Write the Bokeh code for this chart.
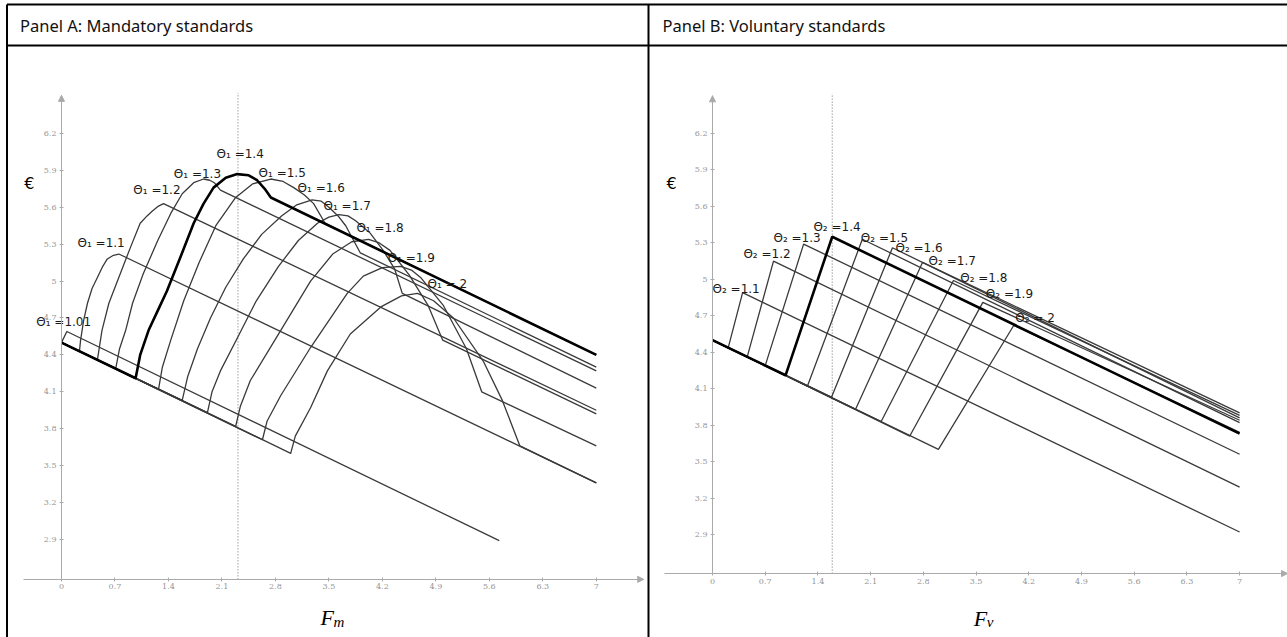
import math
from bokeh.plotting import figure
from bokeh.models import Range1d, LinearAxis, FixedTicker, PrintfTickFormatter, Arrow, NormalHead
from bokeh.embed import file_html
from bokeh.resources import INLINE
from bokeh.core.properties import value

PAGE_W, PAGE_H = 1287, 637

# ---------------- shared tick values ----------------
x_ticks = [0, 0.7, 1.4, 2.1, 2.8, 3.5, 4.2, 4.9, 5.6, 6.3, 7]
y_ticks = [2.9, 3.2, 3.5, 3.8, 4.1, 4.4, 4.7, 5, 5.3, 5.6, 5.9, 6.2]

# ---------------- Panel A: mandatory standards ----------------
A_title = "Panel A: Mandatory standards"
A_theta = ["1.01", "1.1", "1.2", "1.3", "1.4", "1.5", "1.6", "1.7", "1.8", "1.9", "2"]
A_x = [
    [0, 0.07, 5.73],
    [0, 0.235, 0.25, 0.29, 0.34, 0.40, 0.47, 0.54, 0.60, 0.68, 0.75, 7.0],
    [0, 0.47, 0.50, 0.53, 0.62, 0.75, 0.90, 1.03, 1.12, 1.19, 1.27, 1.335, 7.0],
    [0, 0.71, 0.76, 0.84, 0.93, 1.07, 1.26, 1.43, 1.58, 1.73, 1.86, 1.94, 2.0, 2.08, 7.0],
    [0, 0.97, 1.03, 1.14, 1.26, 1.38, 1.56, 1.73, 1.86, 1.99, 2.15, 2.30, 2.45, 2.56, 2.66, 2.74, 7.0],
    [0, 1.27, 1.32, 1.43, 1.60, 1.80, 2.02, 2.28, 2.50, 2.74, 2.90, 3.04, 3.18, 3.30, 3.45, 7.0],
    [0, 1.58, 1.65, 1.78, 1.95, 2.15, 2.38, 2.62, 2.88, 3.08, 3.28, 3.40, 3.50, 3.62, 3.72, 3.91, 7.0],
    [0, 1.91, 1.97, 2.08, 2.32, 2.55, 2.84, 3.10, 3.35, 3.50, 3.63, 3.75, 3.85, 4.04, 4.21, 4.36, 4.46, 7.0],
    [0, 2.28, 2.34, 2.47, 2.87, 3.26, 3.55, 3.80, 4.02, 4.16, 4.30, 4.55, 4.80, 4.99, 7.0],
    [0, 2.63, 2.69, 2.87, 3.26, 3.74, 3.95, 4.20, 4.44, 4.58, 4.70, 5.00, 5.30, 5.50, 7.0],
    [0, 3.0, 3.06, 3.26, 3.48, 3.78, 4.18, 4.45, 4.66, 4.87, 5.13, 5.52, 5.77, 6.0, 7.0],
]
A_y = [
    [4.5, 4.59, 2.89],
    [4.5, 4.43, 4.52, 4.68, 4.82, 4.94, 5.03, 5.12, 5.18, 5.21, 5.22, 3.36],
    [4.5, 4.36, 4.48, 4.60, 4.82, 5.03, 5.27, 5.47, 5.53, 5.57, 5.61, 5.63, 3.95],
    [4.5, 4.29, 4.45, 4.60, 4.82, 5.06, 5.33, 5.55, 5.71, 5.80, 5.83, 5.82, 5.80, 5.74, 4.27],
    [4.5, 4.21, 4.40, 4.60, 4.76, 4.92, 5.20, 5.47, 5.63, 5.76, 5.84, 5.87, 5.86, 5.82, 5.75, 5.68, 4.40],
    [4.5, 4.12, 4.30, 4.52, 4.84, 5.15, 5.45, 5.68, 5.79, 5.83, 5.81, 5.76, 5.70, 5.63, 5.47, 4.40],
    [4.5, 4.03, 4.22, 4.45, 4.70, 4.95, 5.18, 5.38, 5.53, 5.62, 5.66, 5.65, 5.60, 5.53, 5.45, 5.23, 4.30],
    [4.5, 3.93, 4.10, 4.27, 4.56, 4.84, 5.12, 5.33, 5.47, 5.52, 5.54, 5.53, 5.49, 5.39, 5.25, 5.10, 4.90, 4.13],
    [4.5, 3.82, 3.98, 4.19, 4.60, 5.00, 5.22, 5.32, 5.34, 5.31, 5.25, 5.05, 4.80, 4.52, 3.92],
    [4.5, 3.71, 3.86, 4.07, 4.46, 4.90, 5.04, 5.11, 5.12, 5.09, 5.03, 4.80, 4.45, 4.10, 3.66],
    [4.5, 3.60, 3.74, 3.97, 4.27, 4.57, 4.79, 4.88, 4.90, 4.84, 4.70, 4.35, 4.03, 3.66, 3.36],
]
A_label_x = [-0.33, 0.21, 0.94, 1.47, 2.03, 2.58, 3.09, 3.43, 3.86, 4.27, 4.79]
A_label_y = [4.67, 5.31, 5.74, 5.87, 6.03, 5.88, 5.76, 5.61, 5.43, 5.19, 4.98]
A_bold = "1.4"
A_threshold = 2.31
A_axis_cross = 2.575
A_x_bounds = (-0.5, 7.62)
A_y_top = 6.51
A_x_name = "F"
A_x_sub = "m"

# ---------------- Panel B: voluntary standards ----------------
B_title = "Panel B: Voluntary standards"
B_theta = ["1.1", "1.2", "1.3", "1.4", "1.5", "1.6", "1.7", "1.8", "1.9", "2"]
B_start_x, B_start_y = 0.0, 4.5
B_low_x = [0.21, 0.46, 0.70, 0.97, 1.26, 1.58, 1.90, 2.24, 2.62, 3.00]
B_low_y = [4.44, 4.36, 4.29, 4.21, 4.12, 4.03, 3.93, 3.83, 3.71, 3.60]
B_peak_x = [0.40, 0.81, 1.21, 1.59, 1.99, 2.39, 2.79, 3.20, 3.59, 4.00]
B_peak_y = [4.89, 5.15, 5.29, 5.35, 5.33, 5.26, 5.14, 4.99, 4.81, 4.62]
B_end_x = 7.0
B_end_y = [2.92, 3.29, 3.56, 3.73, 3.82, 3.86, 3.90, 3.88, 3.84, 3.74]
B_label_x = [0.00, 0.41, 0.81, 1.34, 1.97, 2.43, 2.87, 3.29, 3.63, 4.02]
B_label_y = [4.92, 5.21, 5.34, 5.43, 5.34, 5.26, 5.15, 5.01, 4.88, 4.68]
B_bold = "1.4"
B_threshold = 1.59
B_axis_cross = 2.578
B_x_bounds = (-0.64, 7.636)
B_y_top = 6.51
B_x_name = "F"
B_x_sub = "v"

# ---------------- figure (one canvas = the whole table) ----------------
p = figure(width=PAGE_W, height=PAGE_H,
           x_range=Range1d(0, PAGE_W), y_range=Range1d(PAGE_H, 0),
           x_axis_type=None, y_axis_type=None,
           toolbar_location=None, output_backend="svg",
           min_border=0, outline_line_color=None,
           background_fill_color="white", border_fill_color="white")
p.extra_x_ranges = {"xa": Range1d(-0.7984, 16.047), "xb": Range1d(-9.4555, 7.636)}
p.extra_y_ranges = {"ya": Range1d(2.1024, 7.2813), "yb": Range1d(2.0519, 7.2947)}

# table borders (page pixels)
TOP, HEAD, LEFT, MID = 4, 45, 6.5, 648
p.segment(x0=[LEFT, LEFT, LEFT, MID], y0=[TOP, TOP, HEAD, TOP],
          x1=[PAGE_W, LEFT, PAGE_W, MID], y1=[TOP, PAGE_H, HEAD, PAGE_H],
          line_color="black", line_width=2)
p.text(x=[LEFT + 13, MID + 14], y=[25, 25], text=[A_title, B_title],
       text_font=value("Noto Sans"), text_font_size="16.5px", text_color="#111111",
       text_baseline="middle", text_align="left")

AX_COL = "#aaaaaa"
LINE_COL = "#3a3a3a"


def axes(xr, yr, cross, xb, ytop):
    xax = LinearAxis(x_range_name=xr, y_range_name=yr, fixed_location=cross, bounds=xb,
                     ticker=FixedTicker(ticks=x_ticks), formatter=PrintfTickFormatter(format="%g"))
    yax = LinearAxis(x_range_name=xr, y_range_name=yr, fixed_location=0, bounds=(cross, ytop),
                     ticker=FixedTicker(ticks=y_ticks), formatter=PrintfTickFormatter(format="%g"))
    for ax in (xax, yax):
        ax.axis_line_color = AX_COL
        ax.axis_line_width = 1
        ax.major_tick_line_color = AX_COL
        ax.major_tick_in = 2
        ax.major_tick_out = 2
        ax.minor_tick_line_color = None
        ax.major_label_text_font = "DejaVu Serif"
        ax.major_label_text_font_size = "8px"
        ax.major_label_text_color = "#959595"
        ax.major_label_standoff = 3
    p.add_layout(xax, "below")
    p.add_layout(yax, "left")
    p.add_layout(Arrow(x_start=xb[1] - 0.1, y_start=cross, x_end=xb[1], y_end=cross,
                       x_range_name=xr, y_range_name=yr, line_color=None,
                       end=NormalHead(size=6, fill_color=AX_COL, line_color=AX_COL)))
    p.add_layout(Arrow(x_start=0, y_start=ytop - 0.1, x_end=0, y_end=ytop,
                       x_range_name=xr, y_range_name=yr, line_color=None,
                       end=NormalHead(size=6, fill_color=AX_COL, line_color=AX_COL)))


axes("xa", "ya", A_axis_cross, A_x_bounds, A_y_top)
axes("xb", "yb", B_axis_cross, B_x_bounds, B_y_top)

# threshold dotted lines
p.segment(x0=[A_threshold], y0=[A_axis_cross], x1=[A_threshold], y1=[A_y_top + 0.02],
          x_range_name="xa", y_range_name="ya", line_color="#6e6e6e", line_width=1, line_dash="1 2")
p.segment(x0=[B_threshold], y0=[B_axis_cross], x1=[B_threshold], y1=[B_y_top + 0.02],
          x_range_name="xb", y_range_name="yb", line_color="#6e6e6e", line_width=1, line_dash="1 2")

# panel A curves
for th, xs, ys in zip(A_theta, A_x, A_y):
    if th != A_bold:
        p.line(xs, ys, x_range_name="xa", y_range_name="ya", line_color=LINE_COL, line_width=1.3,
               line_join="round")
for th, xs, ys in zip(A_theta, A_x, A_y):
    if th == A_bold:
        p.line(xs, ys, x_range_name="xa", y_range_name="ya", line_color="black", line_width=2.6,
               line_join="round")

# panel B curves
for i, th in enumerate(B_theta):
    xs = [B_start_x, B_low_x[i], B_peak_x[i], B_end_x]
    ys = [B_start_y, B_low_y[i], B_peak_y[i], B_end_y[i]]
    if th != B_bold:
        p.line(xs, ys, x_range_name="xb", y_range_name="yb", line_color=LINE_COL, line_width=1.3)
for i, th in enumerate(B_theta):
    if th == B_bold:
        xs = [B_start_x, B_low_x[i], B_peak_x[i], B_end_x]
        ys = [B_start_y, B_low_y[i], B_peak_y[i], B_end_y[i]]
        p.line(xs, ys, x_range_name="xb", y_range_name="yb", line_color="black", line_width=2.6)

# theta labels
p.text(x=A_label_x, y=A_label_y, text=["Θ₁ =" + t if t != "2" else "Θ₁ = 2" for t in A_theta],
       x_range_name="xa", y_range_name="ya", text_font=value("DejaVu Sans"), text_font_size="12px",
       text_color="#1a1a1a", text_baseline="middle", text_align="left")
p.text(x=B_label_x, y=B_label_y, text=["Θ₂ =" + t if t != "2" else "Θ₂ = 2" for t in B_theta],
       x_range_name="xb", y_range_name="yb", text_font=value("DejaVu Sans"), text_font_size="12px",
       text_color="#1a1a1a", text_baseline="middle", text_align="left")

# axis names
p.text(x=[-0.42], y=[5.79], text=["€"], x_range_name="xa", y_range_name="ya",
       text_font=value("DejaVu Sans"), text_font_size="16px", text_align="center", text_baseline="middle")
p.text(x=[-0.545], y=[5.79], text=["€"], x_range_name="xb", y_range_name="yb",
       text_font=value("DejaVu Sans"), text_font_size="16px", text_align="center", text_baseline="middle")
p.text(x=[3.39], y=[2.265], text=[A_x_name], x_range_name="xa", y_range_name="ya",
       text_font=value("Liberation Serif"), text_font_style="italic", text_font_size="22px",
       text_baseline="alphabetic")
p.text(x=[3.39], y=[2.265], text=[A_x_sub], x_range_name="xa", y_range_name="ya", x_offset=13, y_offset=4,
       text_font=value("Liberation Serif"), text_font_style="italic", text_font_size="15px",
       text_baseline="alphabetic")
p.text(x=[3.47], y=[2.21], text=[B_x_name], x_range_name="xb", y_range_name="yb",
       text_font=value("Liberation Serif"), text_font_style="italic", text_font_size="22px",
       text_baseline="alphabetic")
p.text(x=[3.47], y=[2.21], text=[B_x_sub], x_range_name="xb", y_range_name="yb", x_offset=13, y_offset=4,
       text_font=value("Liberation Serif"), text_font_style="italic", text_font_size="15px",
       text_baseline="alphabetic")

open("out.html", "w").write(file_html(p, INLINE))
